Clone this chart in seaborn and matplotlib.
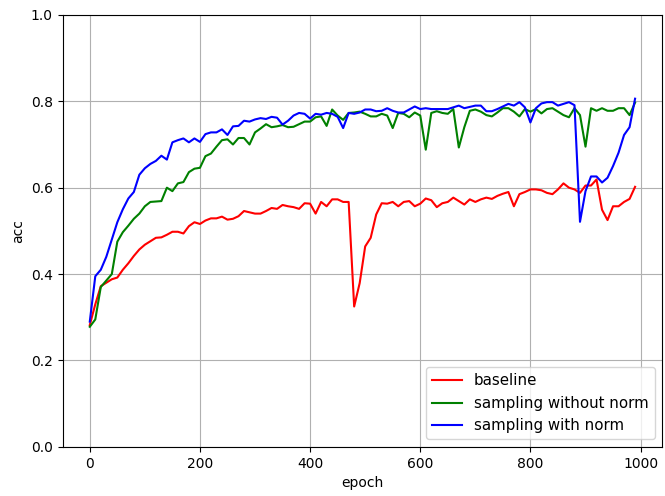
import numpy as np
import pandas as pd
import seaborn as sns
import matplotlib
matplotlib.use("Agg")
import matplotlib.pyplot as plt

epochs = list(range(0, 1000, 10))

baseline = [
    0.282, 0.33, 0.372, 0.38, 0.388, 0.392, 0.41, 0.425, 0.442, 0.457,
    0.468, 0.476, 0.484, 0.485, 0.491, 0.498, 0.498, 0.494, 0.511, 0.52,
    0.516, 0.524, 0.529, 0.529, 0.533, 0.526, 0.528, 0.534, 0.546, 0.543,
    0.54, 0.54, 0.546, 0.553, 0.551, 0.56, 0.557, 0.555, 0.551, 0.564,
    0.563, 0.54, 0.567, 0.557, 0.573, 0.573, 0.567, 0.567, 0.325, 0.379,
    0.464, 0.484, 0.538, 0.564, 0.563, 0.567, 0.557, 0.567, 0.569, 0.557,
    0.563, 0.575, 0.571, 0.555, 0.564, 0.567, 0.577, 0.569, 0.561, 0.573,
    0.567, 0.573, 0.577, 0.574, 0.581, 0.586, 0.59, 0.557, 0.585, 0.59,
    0.596, 0.596, 0.594, 0.588, 0.585, 0.596, 0.61, 0.6, 0.596, 0.588,
    0.605, 0.605, 0.619, 0.549, 0.525, 0.557, 0.557, 0.567, 0.574, 0.602,
]

without_norm = [
    0.278, 0.295, 0.37, 0.385, 0.40, 0.475, 0.497, 0.512, 0.528, 0.54,
    0.557, 0.567, 0.568, 0.569, 0.60, 0.592, 0.61, 0.613, 0.636, 0.644,
    0.646, 0.673, 0.679, 0.695, 0.71, 0.712, 0.70, 0.715, 0.715, 0.70,
    0.728, 0.737, 0.747, 0.74, 0.742, 0.745, 0.74, 0.741, 0.747, 0.753,
    0.753, 0.763, 0.765, 0.743, 0.781, 0.767, 0.757, 0.773, 0.774, 0.776,
    0.771, 0.765, 0.765, 0.771, 0.767, 0.738, 0.773, 0.771, 0.763, 0.774,
    0.767, 0.688, 0.773, 0.777, 0.773, 0.771, 0.782, 0.693, 0.74, 0.778,
    0.781, 0.776, 0.768, 0.765, 0.774, 0.784, 0.784, 0.776, 0.765, 0.782,
    0.776, 0.782, 0.772, 0.782, 0.784, 0.776, 0.768, 0.763, 0.784, 0.768,
    0.695, 0.784, 0.778, 0.784, 0.778, 0.778, 0.784, 0.784, 0.768, 0.797,
]

with_norm = [
    0.29, 0.395, 0.41, 0.44, 0.48, 0.52, 0.55, 0.575, 0.59, 0.63,
    0.645, 0.655, 0.662, 0.674, 0.665, 0.705, 0.71, 0.714, 0.705, 0.714,
    0.706, 0.724, 0.728, 0.728, 0.735, 0.722, 0.742, 0.743, 0.755, 0.753,
    0.758, 0.761, 0.759, 0.764, 0.762, 0.746, 0.755, 0.767, 0.773, 0.771,
    0.76, 0.771, 0.769, 0.773, 0.771, 0.764, 0.738, 0.773, 0.771, 0.774,
    0.781, 0.781, 0.777, 0.778, 0.784, 0.778, 0.774, 0.774, 0.781, 0.788,
    0.782, 0.784, 0.782, 0.782, 0.782, 0.782, 0.786, 0.79, 0.784, 0.787,
    0.79, 0.79, 0.777, 0.777, 0.782, 0.788, 0.794, 0.79, 0.798, 0.786,
    0.751, 0.784, 0.795, 0.798, 0.798, 0.79, 0.794, 0.798, 0.791, 0.521,
    0.592, 0.626, 0.626, 0.612, 0.623, 0.65, 0.681, 0.722, 0.74, 0.806,
]

labels = ["baseline", "sampling without norm", "sampling with norm"]
colors = ["r", "g", "b"]

df = pd.DataFrame({
    "epoch": epochs * 3,
    "acc": baseline + without_norm + with_norm,
    "run": np.repeat(labels, len(epochs)),
})

fig = plt.figure(figsize=(6.65, 4.96), dpi=100)
ax = fig.add_axes([0.094, 0.099, 0.902, 0.871])

sns.lineplot(data=df, x="epoch", y="acc", hue="run",
             palette=dict(zip(labels, colors)), linewidth=1.5, ax=ax)

ax.set_ylim(0, 1.0)
ax.set_xlabel("epoch")
ax.set_ylabel("acc")
ax.grid(True)
ax.legend(loc="lower right", fontsize=10.8)

fig.savefig("out.png", dpi=100)
